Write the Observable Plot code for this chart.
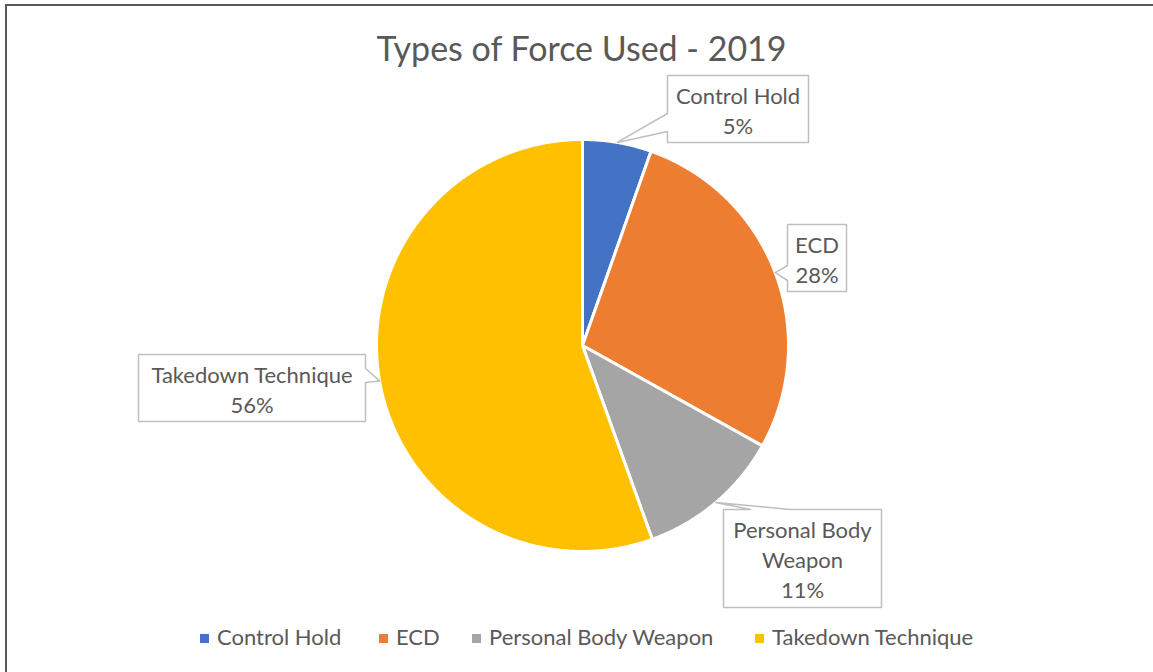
<!DOCTYPE html>
<html>
<head>
<meta charset="utf-8">
<script src="https://cdn.jsdelivr.net/npm/d3@7"></script>
<script src="https://cdn.jsdelivr.net/npm/@observablehq/plot@0.6"></script>
<style>
  html, body { margin: 0; padding: 0; background: #fff; }
  #wrap { position: relative; width: 1153px; height: 672px; overflow: hidden; font-family: Lato, "Noto Sans", sans-serif; color: #595959; }
  #frame { position: absolute; left: 5px; top: 4px; right: -10px; bottom: -10px; border-top: 2px solid #595959; border-left: 2px solid #595959; }
  #title { position: absolute; left: 0; width: 1163px; top: 27px; text-align: center; font-size: 34px; line-height: 41px; color: #595959; }
  #chart { position: absolute; left: 0; top: 0; }
  #legend { position: absolute; top: 624px; left: 0; width: 1153px; height: 28px; font-size: 22px; color: #595959; }
  .item { position: absolute; top: 0; white-space: nowrap; line-height: 26px; }
  .sw { display: inline-block; width: 9px; height: 9px; margin-right: 8px; vertical-align: 2px; }
</style>
</head>
<body>
<div id="wrap">
  <div id="frame"></div>
  <div id="chart"></div>
  <div id="title">Types of Force Used - 2019</div>
  <div id="legend"></div>
</div>
<script>
// ---- data ----
const categories = ["Control Hold", "ECD", "Personal Body Weapon", "Takedown Technique"];
const values = [5.4, 27.7, 11.4, 55.5];
const labelNames = ["Control Hold", "ECD", "Personal Body\nWeapon", "Takedown Technique"];
const colors = ["#4472C4", "#ED7D31", "#A5A5A5", "#FFC000"];

// ---- layout (pixels) of callout boxes: left, top, width, height, tail side, tail start/end along side ----
const boxLayout = [
  {l: 667, t: 75, w: 141, h: 67, side: "left", a: 38, b: 56},
  {l: 787, t: 224, w: 59, h: 67, side: "left", a: 41, b: 56},
  {l: 723, t: 509, w: 158, h: 98, side: "top", a: 27, b: 67},
  {l: 138, t: 354, w: 227, h: 67, side: "right", a: 14, b: 28}
];
const legendX = [200, 379, 472, 755];

// pie geometry in pixels (derived from margins below)
const W = 1153, H = 672;
const mL = 376, mR = 365, mT = 139, mB = 121;
const cx = mL + (W - mL - mR) / 2, cy = mT + (H - mT - mB) / 2, R = (W - mL - mR) / 2;
const ux = px => (px - cx) / R;
const uy = py => (cy - py) / R;

const arcs = d3.pie().sort(null).value(d => d)(values);

// slice polygons
const slicePts = [];
arcs.forEach((a, i) => {
  const key = categories[i];
  slicePts.push({key, x: 0, y: 0});
  const n = Math.max(2, Math.ceil((a.endAngle - a.startAngle) / 0.005));
  for (let k = 0; k <= n; k++) {
    const ang = a.startAngle + (a.endAngle - a.startAngle) * k / n;
    slicePts.push({key, x: Math.sin(ang), y: Math.cos(ang)});
  }
});

// callout polygons
const boxPts = [];
const boxText = [];
arcs.forEach((a, i) => {
  const b = boxLayout[i];
  const mid = (a.startAngle + a.endAngle) / 2;
  const tip = {x: Math.sin(mid), y: Math.cos(mid)};
  const L = b.l, T = b.t, Rr = b.l + b.w, B = b.t + b.h;
  let pts;
  const P = (px, py) => ({x: ux(px), y: uy(py)});
  if (b.side === "left") {
    pts = [P(L, T), P(Rr, T), P(Rr, B), P(L, B), P(L, T + b.b), tip, P(L, T + b.a)];
  } else if (b.side === "right") {
    pts = [P(L, T), P(Rr, T), P(Rr, T + b.a), tip, P(Rr, T + b.b), P(Rr, B), P(L, B)];
  } else {
    pts = [P(L, T), P(L + b.a, T), tip, P(L + b.b, T), P(Rr, T), P(Rr, B), P(L, B)];
  }
  pts.forEach(p => boxPts.push({key: categories[i], x: p.x, y: p.y}));
  boxText.push({
    x: ux(L + b.w / 2),
    y: uy(T + b.h / 2),
    text: labelNames[i] + "\n" + Math.round(values[i]) + "%"
  });
});

const chart = Plot.plot({
  width: W, height: H,
  marginLeft: mL, marginRight: mR, marginTop: mT, marginBottom: mB,
  x: {domain: [-1, 1], axis: null},
  y: {domain: [-1, 1], axis: null},
  color: {domain: categories, range: colors},
  style: {background: "transparent", overflow: "visible", fontFamily: "Lato, 'Noto Sans', sans-serif"},
  marks: [
    Plot.line(slicePts, {x: "x", y: "y", z: "key", fill: "key", stroke: "white", strokeWidth: 3, curve: "linear-closed", strokeLinejoin: "round"}),
    Plot.line(boxPts, {x: "x", y: "y", z: "key", fill: "white", stroke: "#BFBFBF", strokeWidth: 1.5, curve: "linear-closed"}),
    Plot.text(boxText, {x: "x", y: "y", text: "text", fontSize: 22, lineHeight: 1.36, fill: "#595959", lineAnchor: "middle"})
  ]
});
document.getElementById("chart").appendChild(chart);

// legend
const legend = document.getElementById("legend");
categories.forEach((c, i) => {
  const it = document.createElement("div");
  it.className = "item";
  it.style.left = legendX[i] + "px";
  it.innerHTML = `<span class="sw" style="background:${colors[i]}"></span>${c}`;
  legend.appendChild(it);
});
</script>
</body>
</html>
